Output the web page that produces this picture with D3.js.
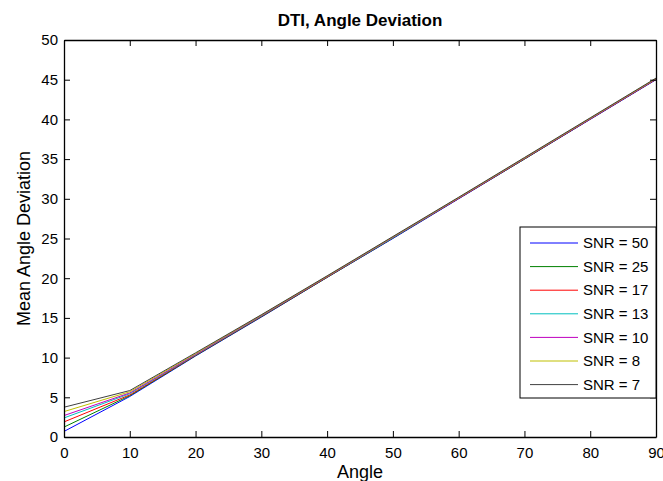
<!DOCTYPE html>
<html>
<head>
<meta charset="utf-8">
<script src="https://cdn.jsdelivr.net/npm/d3@7"></script>
<style>
  body { margin: 0; background: #fff; }
  svg { display: block; font-family: "Liberation Sans", Arial, sans-serif; }
</style>
</head>
<body>
<div id="chart"></div>
<script>
const angles = [0, 10, 20, 30, 40, 50, 60, 70, 80, 90];
const snrLabels = ["SNR = 50", "SNR = 25", "SNR = 17", "SNR = 13", "SNR = 10", "SNR = 8", "SNR = 7"];
const snrColors = ["#0000ff", "#008000", "#ff0000", "#00bfbf", "#bf00bf", "#bfbf00", "#404040"];
const snr50 = [0.7, 5.1, 10.2, 15.1, 20.1, 25.0, 30.0, 35.0, 40.0, 45.0];
const snr25 = [1.25, 5.2, 10.25, 15.15, 20.1, 25.05, 30.05, 35.0, 40.05, 45.05];
const snr17 = [1.9, 5.3, 10.3, 15.2, 20.15, 25.1, 30.05, 35.05, 40.05, 45.05];
const snr13 = [2.4, 5.45, 10.35, 15.25, 20.2, 25.1, 30.1, 35.1, 40.1, 45.1];
const snr10 = [2.7, 5.55, 10.4, 15.3, 20.2, 25.15, 30.1, 35.1, 40.1, 45.1];
const snr8 = [3.2, 5.7, 10.5, 15.35, 20.25, 25.2, 30.15, 35.15, 40.15, 45.15];
const snr7 = [3.75, 5.85, 10.6, 15.4, 20.3, 25.25, 30.2, 35.2, 40.2, 45.2];
const seriesValues = [snr50, snr25, snr17, snr13, snr10, snr8, snr7];
const xTicks = [0, 10, 20, 30, 40, 50, 60, 70, 80, 90];
const yTicks = [0, 5, 10, 15, 20, 25, 30, 35, 40, 45, 50];

const width = 663, height = 481;
const margin = {top: 40, right: 7, bottom: 44, left: 64};
const x0 = margin.left, x1 = width - margin.right;
const y0 = height - margin.bottom, y1 = margin.top;

const svg = d3.select("#chart").append("svg")
    .attr("width", width)
    .attr("height", height);

const x = d3.scaleLinear().domain([0, 90]).range([x0, x1]);
const y = d3.scaleLinear().domain([0, 50]).range([y0, y1]);

const line = d3.line()
    .x((d, i) => x(angles[i]))
    .y(d => y(d));

// series
svg.append("g")
    .selectAll("path")
    .data(seriesValues)
    .join("path")
    .attr("fill", "none")
    .attr("stroke", (d, i) => snrColors[i])
    .attr("stroke-width", 1)
    .attr("d", line);

// axes (inward ticks, box)
const tickLen = 6;
svg.append("g")
    .attr("transform", `translate(0,${y0})`)
    .call(d3.axisBottom(x).tickValues(xTicks).tickSizeInner(-tickLen).tickSizeOuter(0).tickPadding(10))
    .call(g => g.select(".domain").attr("stroke-width", 1.3))
    .call(g => g.selectAll("text").attr("font-size", 15).attr("fill", "#000").attr("font-family", null));
svg.append("g")
    .attr("transform", `translate(0,${y1})`)
    .call(d3.axisTop(x).tickValues(xTicks).tickSizeInner(-tickLen).tickSizeOuter(0).tickFormat(""))
    .call(g => g.select(".domain").attr("stroke-width", 1.3));
svg.append("g")
    .attr("transform", `translate(${x0},0)`)
    .call(d3.axisLeft(y).tickValues(yTicks).tickSizeInner(-tickLen).tickSizeOuter(0).tickPadding(6))
    .call(g => g.select(".domain").attr("stroke-width", 1.3))
    .call(g => g.selectAll("text").attr("font-size", 15).attr("fill", "#000").attr("font-family", null));
svg.append("g")
    .attr("transform", `translate(${x1},0)`)
    .call(d3.axisRight(y).tickValues(yTicks).tickSizeInner(-tickLen).tickSizeOuter(0).tickFormat(""))
    .call(g => g.select(".domain").attr("stroke-width", 1.3));

// title & labels
svg.append("text")
    .attr("x", (x0 + x1) / 2)
    .attr("y", 26)
    .attr("text-anchor", "middle")
    .attr("font-size", 17)
    .attr("font-weight", "bold")
    .text("DTI, Angle Deviation");
svg.append("text")
    .attr("x", (x0 + x1) / 2)
    .attr("y", 478)
    .attr("text-anchor", "middle")
    .attr("font-size", 18)
    .text("Angle");
svg.append("text")
    .attr("transform", `translate(30,${(y0 + y1) / 2}) rotate(-90)`)
    .attr("text-anchor", "middle")
    .attr("font-size", 18)
    .text("Mean Angle Deviation");

// legend
const lx = 520, ly = 227, lw = 136, lh = 171, rowH = 23.6;
const legend = svg.append("g");
legend.append("rect")
    .attr("x", lx).attr("y", ly)
    .attr("width", lw).attr("height", lh)
    .attr("fill", "#fff")
    .attr("stroke", "#000")
    .attr("stroke-width", 1);
const rows = legend.selectAll("g.row")
    .data(snrLabels)
    .join("g")
    .attr("class", "row")
    .attr("transform", (d, i) => `translate(${lx},${ly + 16 + i * rowH})`);
rows.append("line")
    .attr("x1", 10).attr("x2", 58)
    .attr("stroke", (d, i) => snrColors[i])
    .attr("stroke-width", 1);
rows.append("text")
    .attr("x", 63)
    .attr("dy", "0.35em")
    .attr("font-size", 15)
    .text(d => d);
</script>
</body>
</html>
